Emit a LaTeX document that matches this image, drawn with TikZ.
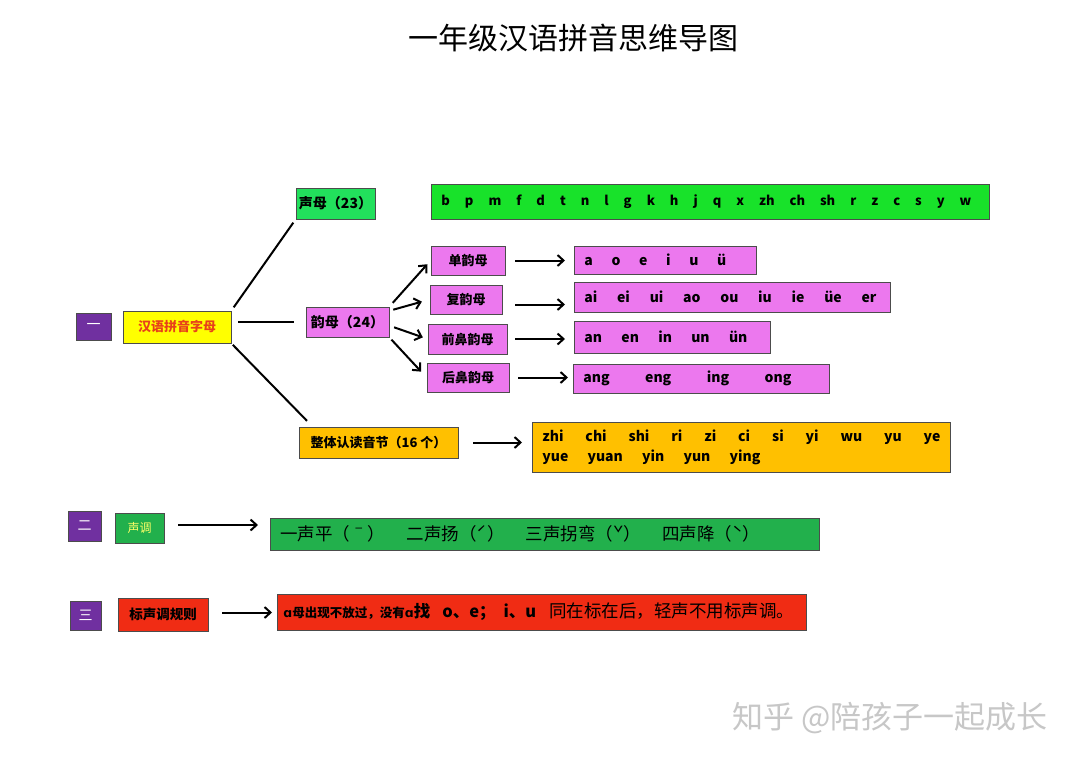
\documentclass[tikz,border=0pt]{standalone}
\usepackage{fontspec}
\setmainfont{Noto Sans CJK SC}
\newfontfamily\ipafont{DejaVu Sans}
\usepackage{tikz}
\usetikzlibrary{arrows.meta}

\definecolor{numpurple}{HTML}{7030A0}
\definecolor{hanyuyellow}{HTML}{FFFF00}
\definecolor{hanyured}{HTML}{E8401A}
\definecolor{shengmugreen}{HTML}{22E05C}
\definecolor{bpmfgreen}{HTML}{18E22A}
\definecolor{yunpink}{HTML}{EC78EE}
\definecolor{syllorange}{HTML}{FFC000}
\definecolor{tonegreen}{HTML}{22B04C}
\definecolor{tonetext}{HTML}{FFFF66}
\definecolor{rulered}{HTML}{F02C14}

\begin{document}
\begin{tikzpicture}[x=1pt, y=-1pt,
box/.style={draw=black!70, line width=0.8pt, inner sep=0pt, font=\bfseries\fontsize{13}{15}\selectfont},
numbox/.style={box, fill=numpurple, text=white, font=\fontsize{14}{16}\selectfont},
rowbox/.style={box, anchor=west, inner xsep=10pt, inner ysep=0pt, align=left, font=\bfseries\fontsize{14}{20}\selectfont},
spread/.style={execute at begin node={\spaceskip=0.25em plus 1fil\relax}},
link/.style={line width=2pt},
arrow/.style={link, -{Straight Barb[length=6pt,width=11pt,line width=2pt]}}]
\fill[white] (0,0) rectangle (1080,764);
\node[font=\fontsize{30}{32}\selectfont] at (573,38) (title) {一年级汉语拼音思维导图};
%section one
\node[numbox, minimum width=35pt, minimum height=27pt] at (93.5,326.5) (one) {一};
\node[box, fill=hanyuyellow, text=hanyured, minimum width=108pt, minimum height=32pt] at (177,327) (hanyu) {汉语拼音字母};
\node[box, fill=shengmugreen, minimum width=79pt, minimum height=31pt, font=\bfseries\fontsize{14}{16}\selectfont] at (335.5,203.5) (shengmu) {声母（23）};
\node[rowbox, spread, fill=bpmfgreen, minimum height=35pt, text width=538pt, font=\bfseries\fontsize{13}{15}\selectfont] at (431,201.5) (bpmf) {\makebox[530pt][s]{b p m f d t n l g k h j q x zh ch sh r z c s y w}};
\node[box, fill=yunpink, minimum width=83pt, minimum height=30pt, font=\bfseries\fontsize{14}{16}\selectfont] at (347.5,322) (yunmu) {韵母（24）};
\node[box, fill=yunpink, minimum width=74pt, minimum height=29pt] at (468,260.5) (dan) {单韵母};
\node[box, fill=yunpink, minimum width=72pt, minimum height=29pt] at (466,299.5) (fu) {复韵母};
\node[box, fill=yunpink, minimum width=79pt, minimum height=30pt] at (467.5,339) (qian) {前鼻韵母};
\node[box, fill=yunpink, minimum width=82pt, minimum height=29pt] at (468,377.5) (hou) {后鼻韵母};
\node[rowbox, spread, fill=yunpink, minimum height=28pt, text width=162pt] at (574,260) (danr) {\makebox[142pt][s]{a o e i u ü}};
\node[rowbox, spread, fill=yunpink, minimum height=30pt, text width=296pt] at (574,297) (fur) {\makebox[292pt][s]{ai ei ui ao ou iu ie üe er}};
\node[rowbox, spread, fill=yunpink, minimum height=32pt, text width=176pt] at (574,337) (qianr) {\makebox[163pt][s]{an en in un ün}};
\node[rowbox, spread, fill=yunpink, minimum height=29pt, text width=236pt] at (573,378.5) (hour) {\makebox[208pt][s]{ang eng ing ong}};
\node[box, fill=syllorange, minimum width=159pt, minimum height=31pt] at (378.5,442.5) (zhengti) {整体认读音节（16 个）};
\node[rowbox, spread, fill=syllorange, minimum height=50pt, text width=398pt] at (532,447) (zhengtir) {\makebox[398pt][s]{zhi chi shi ri zi ci si yi wu yu ye}\\\makebox[218pt][s]{yue yuan yin yun ying}};
\draw[link, shorten <=4pt, shorten >=4pt] (hanyu.north east) -- (shengmu.south west);
\draw[link, shorten <=7pt, shorten >=12pt] (hanyu.east |- yunmu.west) -- (yunmu.west);
\draw[link, shorten <=2pt, shorten >=8pt] (hanyu.south east) -- ([xshift=14pt]zhengti.north west);
\draw[arrow, shorten <=5pt, shorten >=5pt] (yunmu.north east) -- (dan.west);
\draw[arrow, shorten <=4pt, shorten >=8pt] (yunmu.15) -- (fu.west);
\draw[arrow, shorten <=5pt, shorten >=5pt] (yunmu.-5) -- (qian.west);
\draw[arrow, shorten <=3pt, shorten >=8pt] (yunmu.south east) -- (hou.west);
\draw[arrow, shorten <=10pt, shorten >=9pt] (dan.east) -- (dan.east -| danr.west);
\draw[arrow, shorten <=13pt, shorten >=9pt] ([yshift=-5pt]fu.east) -- ([yshift=-5pt]fu.east -| fur.west);
\draw[arrow, shorten <=8pt, shorten >=9pt] (qian.east) -- (qian.east -| qianr.west);
\draw[arrow, shorten <=9pt, shorten >=5pt] (hou.east) -- (hou.east -| hour.west);
\draw[arrow, shorten <=15pt, shorten >=10pt] (zhengti.east) -- (zhengti.east -| zhengtir.west);
%section two
\node[numbox, minimum width=33pt, minimum height=30pt] at (84.5,526) (two) {二};
\node[box, fill=tonegreen, text=tonetext, minimum width=49pt, minimum height=30pt, font=\fontsize{12}{14}\selectfont] at (139.5,528) (shengdiao) {声调};
\node[rowbox, spread, fill=tonegreen, minimum height=32pt, text width=529pt, font=\fontsize{17.5}{19}\selectfont] at (270,534) (tone) {\makebox[480pt][s]{一声平（ˉ） 二声扬（ˊ） 三声拐弯（ˇ） 四声降（ˋ）}};
\draw[arrow, shorten <=14pt, shorten >=12pt] ([yshift=3pt]shengdiao.east) -- ([yshift=3pt]shengdiao.east -| tone.west);
%section three
\node[numbox, minimum width=31pt, minimum height=29pt] at (85.5,615.5) (three) {三};
\node[box, fill=rulered, minimum width=90pt, minimum height=33pt, font=\bfseries\fontsize{13.5}{15}\selectfont] at (163,614.5) (biao) {标声调规则};
\node[rowbox, fill=rulered, minimum height=36pt, text width=517pt, inner xsep=6pt, font=\fontsize{17.5}{19}\selectfont] at (277,612) (rule) {{\bfseries\fontsize{12.5}{14}\selectfont{\ipafont ɑ}母出现不放过，没有{\ipafont ɑ}}{\bfseries\fontsize{16.5}{18}\selectfont 找\hspace{12pt}o、e；\hspace{8pt}i、u}\hspace{13pt}同在标在后，轻声不用标声调。};
\draw[arrow, shorten <=14pt, shorten >=5pt] ([yshift=2pt]biao.east) -- ([yshift=2pt]biao.east -| rule.west);
\node[text=black!22, font=\fontsize{31}{33}\selectfont] at (890,718) (mark) {知乎 @陪孩子一起成长};
\end{tikzpicture}
\end{document}
